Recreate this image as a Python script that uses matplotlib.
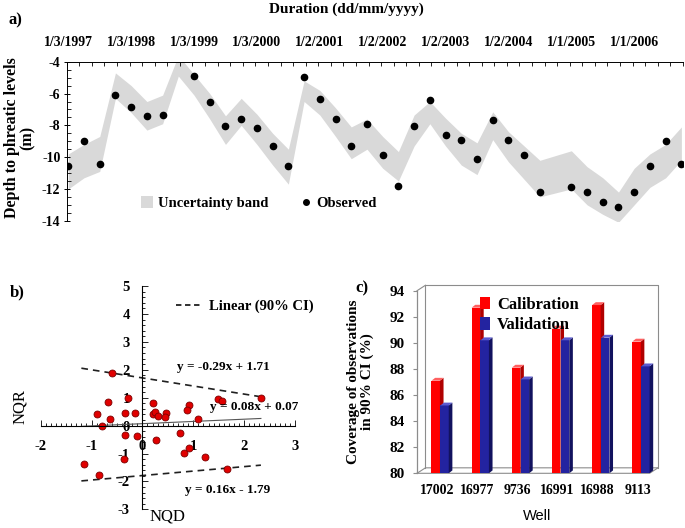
import numpy as np
import matplotlib
matplotlib.use("Agg")
import matplotlib.pyplot as plt
from matplotlib.patches import Patch
from matplotlib.lines import Line2D
from matplotlib.ticker import MultipleLocator

plt.rcParams['font.family'] = ['Liberation Serif', 'DejaVu Serif']
plt.rcParams['axes.unicode_minus'] = False

# ---- panel a: groundwater depth, 40 quarterly steps ----
date_labels = ['1/3/1997', '1/3/1998', '1/3/1999', '1/3/2000', '1/2/2001',
               '1/2/2002', '1/2/2003', '1/2/2004', '1/1/2005', '1/1/2006']
band_upper = [-9.8, -9.2, -8.7, -4.7, -5.5, -6.5, -6.1, -3.6, -4.8, -6.0,
              -7.4, -6.3, -7.3, -8.5, -9.5, -5.2, -5.8, -6.9, -8.1, -7.6,
              -8.7, -9.65, -7.35, -6.5, -7.55, -8.5, -9.1, -7.15, -8.4, -9.3,
              -10.2, -9.9, -9.6, -10.6, -11.3, -12.2, -10.7, -9.8, -9.2, -8.1]
band_lower = [-12.0, -11.3, -10.9, -6.3, -7.2, -8.3, -7.9, -4.9, -6.1, -7.6,
              -9.2, -8.0, -9.2, -10.5, -11.7, -6.5, -7.35, -8.7, -10.1, -9.5,
              -10.7, -11.5, -9.3, -7.9, -9.3, -10.5, -11.1, -8.9, -10.3, -11.4,
              -12.5, -12.25, -12.0, -13.0, -13.6, -14.1, -13.0, -11.9, -11.3, -10.2]
observed = [-10.55, -8.97, -10.41, -6.11, -6.84, -7.42, -7.32, np.nan, -4.88, -6.55,
            -8.01, -7.61, -8.15, -9.33, -10.55, -4.98, -6.32, -7.58, -9.29, -7.91,
            -9.88, -11.82, -8.02, -6.41, -8.6, -8.9, -10.1, -7.68, -8.9, -9.84,
            -12.2, np.nan, -11.87, -12.2, -12.8, -13.11, -12.2, -10.57, -9.0, -10.42]

# ---- panel b: normal quantile plot ----
nqd = [-0.59, -0.67, -0.29, -0.90, -0.64, -0.79, -0.35, -0.15, -0.35, -0.10,
       -0.37, -1.15, -0.86, 0.20, 0.20, 0.25, 0.30, 0.46, 0.44, 0.26,
       0.73, 0.82, 0.92, 0.92, 0.88, 1.09, 1.23, 1.48, 1.56, 2.33, 1.67]
nqr = [1.87, 0.86, 0.98, 0.42, 0.23, 0.0, 0.44, 0.44, -0.33, -0.39,
       -1.19, -1.38, -1.78, 0.82, 0.41, 0.50, 0.36, 0.44, 0.30, -0.53,
       -0.27, -0.97, -0.81, 0.75, 0.56, 0.25, -1.11, 0.95, 0.89, 0.98, -1.57]
fit_upper = (-0.29, 1.71)
fit_mid = (0.08, 0.07)
fit_lower = (0.16, -1.79)
fit_range = (-1.2, 2.33)

# ---- panel c: coverage ----
wells = ['17002', '16977', '9736', '16991', '16988', '9113']
calibration = [87.1, 92.7, 88.1, 91.1, 92.9, 90.1]
validation = [85.2, 90.2, 87.2, 90.2, 90.4, 88.2]

fig = plt.figure(figsize=(6.85, 5.28), dpi=100)

# ================= a) =================
ax = fig.add_axes([0.0974, 0.582, 0.8996, 0.301])
idx = np.arange(len(band_upper))
ax.fill_between(idx, band_lower, band_upper, color='#d9d9d9', lw=0)
ax.plot(idx, observed, 'o', color='black', ms=4.5, ls='none')
ax.set_xlim(-0.1, 39.1)
ax.set_ylim(-14, -4)
ax.xaxis.tick_top()
ax.set_xticks(np.arange(0, 40, 4))
ax.set_xticklabels(date_labels, fontweight='bold', fontsize=10)
ax.set_xticks(np.arange(-0.1, 39.15, 0.8), minor=True)
ax.tick_params(axis='x', which='major', length=0, pad=9)
ax.tick_params(axis='x', which='minor', direction='in', length=3, width=0.6)
ax.set_yticks(np.arange(-14, -3, 2))
ax.set_yticklabels([str(v) for v in range(-14, -3, 2)], fontweight='bold', fontsize=10)
ax.yaxis.set_minor_locator(MultipleLocator(0.5))
ax.tick_params(axis='y', which='major', direction='inout', length=5, width=0.7, pad=2)
ax.tick_params(axis='y', which='minor', direction='in', length=3, width=0.6)
for s in ['right', 'bottom']:
    ax.spines[s].set_visible(False)
ax.spines['top'].set_linewidth(0.7)
ax.spines['left'].set_linewidth(0.7)
ax.set_ylabel('Depth to phreatic levels\n(m)', fontweight='bold', fontsize=11.5,
              linespacing=1.0)
ax.yaxis.set_label_coords(-0.05, 0.52)
handles = [Patch(facecolor='#d9d9d9', edgecolor='none', label='Uncertainty band'),
           Line2D([], [], marker='o', color='black', ls='none', ms=4, label='Observed')]
ax.legend(handles=handles, ncol=2, loc='center left', bbox_to_anchor=(0.1, 0.11),
          frameon=False, prop={'weight': 'bold', 'size': 10.5}, handlelength=0.8,
          handleheight=0.9, handletextpad=0.3, columnspacing=2.2)
fig.text(346 / 685, 1 - 9 / 528, 'Duration (dd/mm/yyyy)', ha='center', va='center',
         fontweight='bold', fontsize=11)
fig.text(15 / 685, 1 - 20 / 528, 'a)', ha='center', va='center', fontweight='bold', fontsize=12)

# ================= b) =================
bx = fig.add_axes([0.0594, 0.0354, 0.3712, 0.4227])
bx.set_xlim(-2, 3)
bx.set_ylim(-3, 5)
for s in ['left', 'bottom']:
    bx.spines[s].set_position('zero')
    bx.spines[s].set_linewidth(0.8)
for s in ['right', 'top']:
    bx.spines[s].set_visible(False)
bx.xaxis.set_major_locator(MultipleLocator(1))
bx.yaxis.set_major_locator(MultipleLocator(1))
bx.xaxis.set_minor_locator(MultipleLocator(0.1))
bx.yaxis.set_minor_locator(MultipleLocator(0.2))
bx.tick_params(which='both', direction='in', width=0.6)
bx.tick_params(which='major', length=4, labelsize=10.5)
bx.tick_params(axis='x', which='major', pad=10)
bx.tick_params(axis='y', which='major', pad=9)
bx.tick_params(which='minor', length=2.5)
for lab in bx.get_xticklabels() + bx.get_yticklabels():
    lab.set_fontweight('bold')
xs = np.array(fit_range)
bx.plot(xs, fit_upper[0] * xs + fit_upper[1], ls=(0, (4, 3)), color='#202020', lw=1.2)
bx.plot(xs, fit_lower[0] * xs + fit_lower[1], ls=(0, (4, 3)), color='#202020', lw=1.2)
bx.plot(xs, fit_mid[0] * xs + fit_mid[1], ls='-', color='#555555', lw=0.8)
bx.plot(nqd, nqr, 'o', ms=5, mfc='#e00000', mec='#7a0000', mew=0.6, ls='none')
bx.text(1.59, 2.1, 'y = -0.29x + 1.71', ha='center', va='center', fontweight='bold', fontsize=9.5)
bx.text(1.33, 0.65, 'y = 0.08x + 0.07', ha='left', va='center', fontweight='bold', fontsize=9.5)
bx.text(1.68, -2.3, 'y = 0.16x - 1.79', ha='center', va='center', fontweight='bold', fontsize=9.5)
bx.legend(handles=[Line2D([], [], ls=(0, (3, 2)), color='#202020', lw=1.3, label='Linear (90% CI)')],
          loc='center left', bbox_to_anchor=(0.48, 0.91), frameon=False,
          prop={'weight': 'bold', 'size': 10.5}, handlelength=1.8, handletextpad=0.5)
bx.text(-0.08, 0.46, 'NQR', transform=bx.transAxes, rotation=90, ha='center', va='center',
        fontsize=12)
bx.text(0.5, -0.033, 'NQD', transform=bx.transAxes, ha='center', va='center', fontsize=12)
fig.text(10 / 685, 1 - 292 / 528, 'b)', ha='left', va='center', fontweight='bold', fontsize=12)

# ================= c) =================
cx = fig.add_axes([0.6088, 0.1036, 0.3518, 0.3458])
cx.set_xlim(-0.5, 5.5)
cx.set_ylim(80, 94)
for s in ['right', 'top', 'bottom', 'left']:
    cx.spines[s].set_visible(False)
# 3d-ish box: back wall, floor, left side
wall = dict(color='#8c8c8c', lw=0.8, transform=cx.transAxes, clip_on=False)
ox, oy = 0.035, 0.03
cx.plot([0, 0], [0, 1], color='#8c8c8c', lw=0.9, transform=cx.transAxes, clip_on=False)
cx.plot([ox, ox, 1.0, 1.0], [oy, 1 + oy, 1 + oy, oy], **wall)
cx.plot([0, ox], [1, 1 + oy], **wall)
cx.plot([0, ox, 1.0], [0, oy, oy], **wall)
cx.plot([0, 1.0 - ox, 1.0], [0, 0, oy], **wall)
cx.set_yticks(np.arange(80, 95, 2))
cx.set_yticklabels([str(v) for v in range(80, 95, 2)], fontweight='bold', fontsize=11)
cx.tick_params(axis='y', direction='out', length=3, color='#8c8c8c', pad=6)
cx.set_xticks(np.arange(len(wells)))
cx.set_xticklabels(wells, fontweight='bold', fontsize=10)
cx.tick_params(axis='x', length=0, pad=8)

w = 0.21
ddx, ddy = 0.09, 0.22
series = [(calibration, -0.14, '#ff0000', '#b00000', '#ff6060'),
          (validation, 0.08, '#2323a0', '#12125e', '#5a5ad0')]
for i in range(len(wells)):
    for vals, off, front, side, top in series:
        v = vals[i]
        x0 = i + off
        cx.bar(x0, v - 80, width=w, bottom=80, align='edge', color=front, lw=0, zorder=3)
        cx.fill([x0 + w, x0 + w + ddx, x0 + w + ddx, x0 + w],
                [80, 80 + ddy, v + ddy, v], color=side, lw=0, zorder=3)
        cx.fill([x0, x0 + ddx, x0 + w + ddx, x0 + w],
                [v, v + ddy, v + ddy, v], color=top, lw=0, zorder=3)

cx.set_ylabel('Coverage of observations\nin 90% CI (%)', fontweight='bold', fontsize=11,
              linespacing=1.05)
cx.yaxis.set_label_coords(-0.18, 0.5)
cx.legend(handles=[Patch(facecolor='#ff0000', label='Calibration'),
                   Patch(facecolor='#2323a0', label='Validation')],
          loc='upper left', bbox_to_anchor=(0.2, 1.05), frameon=False,
          prop={'weight': 'bold', 'size': 12}, handlelength=0.6, handleheight=0.8,
          handletextpad=0.4, labelspacing=0.25)
cx.set_xlabel('Well', fontfamily='Liberation Sans', fontsize=10.5, labelpad=8)
fig.text(362 / 685, 1 - 288 / 528, 'c)', ha='center', va='center', fontweight='bold', fontsize=12)

fig.savefig('out.png', dpi=100)
